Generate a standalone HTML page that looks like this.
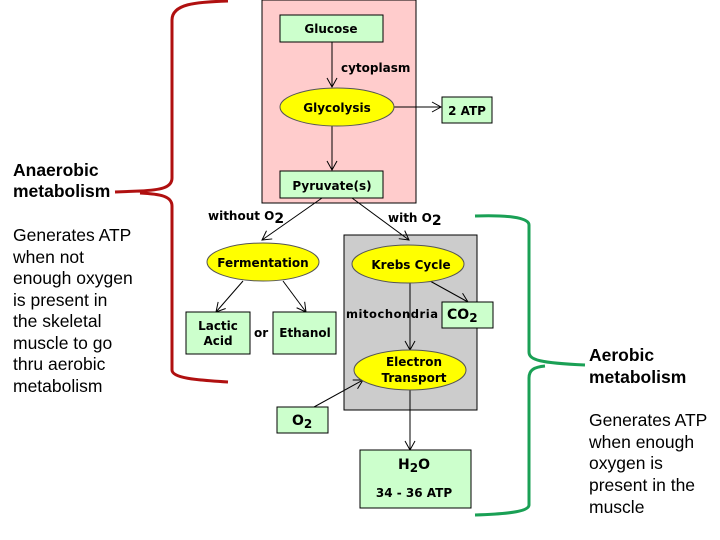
<!DOCTYPE html>
<html><head><meta charset="utf-8"><style>
html,body{margin:0;padding:0;background:#fff;width:720px;height:540px;overflow:hidden}
svg{display:block}
.c{font-family:"DejaVu Sans",sans-serif;font-weight:bold;font-size:12px;fill:#000}
.t{font-family:"Liberation Sans",Arial,sans-serif;font-size:17.5px;fill:#000}
.b{font-weight:bold}
</style></head><body>
<svg width="720" height="540" viewBox="0 0 720 540">
<defs><marker id="a" markerWidth="12" markerHeight="12" refX="10" refY="6" orient="auto" markerUnits="userSpaceOnUse"><path d="M1,1 L10,6 L1,11" fill="none" stroke="#000" stroke-width="1"/></marker></defs>
<rect x="262" y="0" width="154" height="203" fill="#ffcccc" stroke="#000"/>
<rect x="344" y="235" width="133" height="175" fill="#cccccc" stroke="#000"/>
<g stroke="#000" stroke-width="1" fill="none">
<line x1="332" y1="42" x2="332" y2="87" marker-end="url(#a)"/>
<line x1="394" y1="107" x2="441" y2="107" marker-end="url(#a)"/>
<line x1="332" y1="126" x2="332" y2="170" marker-end="url(#a)"/>
<line x1="322" y1="198" x2="262" y2="240" marker-end="url(#a)"/>
<line x1="352" y1="198" x2="409" y2="240" marker-end="url(#a)"/>
<line x1="243" y1="281" x2="216" y2="312" marker-end="url(#a)"/>
<line x1="283" y1="281" x2="306" y2="312" marker-end="url(#a)"/>
<line x1="430" y1="281" x2="468" y2="302" marker-end="url(#a)"/>
<line x1="410" y1="283" x2="410" y2="350" marker-end="url(#a)"/>
<line x1="314" y1="407" x2="363" y2="380" marker-end="url(#a)"/>
<line x1="410" y1="390" x2="410" y2="450" marker-end="url(#a)"/>
</g>
<g stroke="#000" fill="#ccffcc">
<rect x="280" y="15" width="103" height="27"/>
<rect x="442" y="97" width="50" height="26"/>
<rect x="280" y="171" width="103" height="27"/>
<rect x="186" y="312" width="64" height="42"/>
<rect x="273" y="312" width="63" height="42"/>
<rect x="442" y="302" width="51" height="26"/>
<rect x="277" y="407" width="51" height="26"/>
<rect x="360" y="450" width="111" height="58"/>
</g>
<g stroke="#555" fill="#ffff00">
<ellipse cx="337" cy="107" rx="57" ry="19"/>
<ellipse cx="263" cy="262" rx="56" ry="19"/>
<ellipse cx="408" cy="264" rx="56" ry="19"/>
<ellipse cx="410" cy="370" rx="56" ry="20"/>
</g>
<g class="c">
<text x="331" y="33" text-anchor="middle">Glucose</text>
<text x="341" y="72">cytoplasm</text>
<text x="337" y="112" text-anchor="middle">Glycolysis</text>
<text x="467" y="115" text-anchor="middle">2 ATP</text>
<text x="332" y="190" text-anchor="middle">Pyruvate(s)</text>
<text x="208" y="220">without O<tspan font-size="14" dy="3">2</tspan></text>
<text x="388" y="222">with O<tspan font-size="14" dy="3">2</tspan></text>
<text x="263" y="267" text-anchor="middle">Fermentation</text>
<text x="411" y="269" text-anchor="middle">Krebs Cycle</text>
<text x="218" y="330" text-anchor="middle">Lactic</text>
<text x="218" y="345" text-anchor="middle">Acid</text>
<text x="254" y="337">or</text>
<text x="305" y="337" text-anchor="middle">Ethanol</text>
<text x="346" y="318" font-size="11.5" textLength="92">mitochondria</text>
<text x="447" y="319" font-size="14">CO<tspan font-size="12" dy="3">2</tspan></text>
<text x="414" y="366" text-anchor="middle">Electron</text>
<text x="414" y="382" text-anchor="middle">Transport</text>
<text x="292" y="425" font-size="14">O<tspan font-size="12" dy="3">2</tspan></text>
<text x="398" y="469" font-size="14">H<tspan font-size="12" dy="3">2</tspan><tspan dy="-3">O</tspan></text>
<text x="414" y="497" text-anchor="middle">34 - 36 ATP</text>
</g>
<path d="M228,1 C195,2 172,4 172,20 L172,178 C172,188 160,190 140,191 L115,192 M140,193 C160,194 172,196 172,206 L172,370 C172,378 195,380 228,382" fill="none" stroke="#b01010" stroke-width="3"/>
<path d="M475,216 C505,215 529,217 529,225 L529,352 C529,360 540,363 585,365 M545,366 C534,367 529,370 529,378 L529,505 C529,512 505,514 475,515" fill="none" stroke="#1aa055" stroke-width="3"/>
<g class="t">
<text x="13" y="176" class="b">Anaerobic</text>
<text x="13" y="197" class="b">metabolism</text>
<text x="13" y="241">Generates ATP</text>
<text x="13" y="263">when not</text>
<text x="13" y="284">enough oxygen</text>
<text x="13" y="306">is present in</text>
<text x="13" y="327">the skeletal</text>
<text x="13" y="349">muscle to go</text>
<text x="13" y="370">thru aerobic</text>
<text x="13" y="392">metabolism</text>
<text x="589" y="361" class="b">Aerobic</text>
<text x="589" y="383" class="b">metabolism</text>
<text x="589" y="426">Generates ATP</text>
<text x="589" y="448">when enough</text>
<text x="589" y="469">oxygen is</text>
<text x="589" y="491">present in the</text>
<text x="589" y="513">muscle</text>
</g>
</svg>
</body></html>
